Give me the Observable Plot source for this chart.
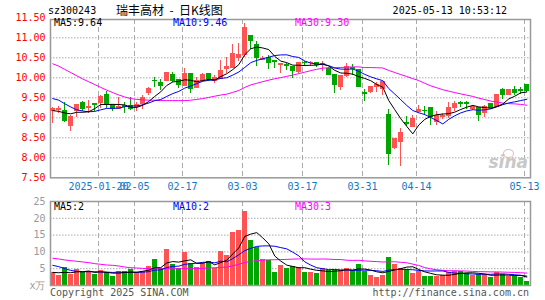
<!DOCTYPE html>
<html><head><meta charset="utf-8">
<script src="https://cdn.jsdelivr.net/npm/d3@7"></script>
<script src="https://cdn.jsdelivr.net/npm/@observablehq/plot@0.6"></script>
<style>
html,body{margin:0;padding:0;background:#fff;}
#wrap{position:relative;width:545px;height:300px;overflow:hidden;font-family:"DejaVu Sans Mono",monospace;}
#wrap svg{position:absolute;left:0;}
.t{position:absolute;white-space:pre;font-size:10px;line-height:12px;font-family:"DejaVu Sans Mono",monospace;}
</style></head><body>
<div id="wrap">
  <div class="t" style="left:48px;top:5px;color:#000">sz300243</div>
  <div class="t" style="left:116px;top:2px;font-family:'Noto Sans CJK SC',sans-serif;font-size:12px;line-height:16px;color:#000">瑞丰高材  -  日K线图</div>
  <div class="t" style="right:38px;top:5px;color:#000">2025-05-13 10:53:12</div>
</div>
<script>
// ---------- data ----------
const dates = ["2025-01-08","2025-01-09","2025-01-10","2025-01-13","2025-01-14","2025-01-15","2025-01-16","2025-01-17","2025-01-20","2025-01-21",
"2025-01-22","2025-01-23","2025-01-24","2025-01-27","2025-02-05","2025-02-06","2025-02-07","2025-02-10","2025-02-11","2025-02-12",
"2025-02-13","2025-02-14","2025-02-17","2025-02-18","2025-02-19","2025-02-20","2025-02-21","2025-02-24","2025-02-25","2025-02-26",
"2025-02-27","2025-02-28","2025-03-03","2025-03-04","2025-03-05","2025-03-06","2025-03-07","2025-03-10","2025-03-11","2025-03-12",
"2025-03-13","2025-03-14","2025-03-17","2025-03-18","2025-03-19","2025-03-20","2025-03-21","2025-03-24","2025-03-25","2025-03-26",
"2025-03-27","2025-03-28","2025-03-31","2025-04-01","2025-04-02","2025-04-03","2025-04-07","2025-04-08","2025-04-09","2025-04-10",
"2025-04-11","2025-04-14","2025-04-15","2025-04-16","2025-04-17","2025-04-18","2025-04-21","2025-04-22","2025-04-23","2025-04-24",
"2025-04-25","2025-04-28","2025-04-29","2025-04-30","2025-05-06","2025-05-07","2025-05-08","2025-05-09","2025-05-12","2025-05-13"];

const open = [9.16,9.19,9.17,8.79,9.17,9.36,9.25,9.34,9.36,9.56, 9.32,9.22,9.29,9.30,9.26,9.35,9.62,9.93,9.87,9.93,
10.06,9.95,9.80,10.10,9.75,9.93,10.10,9.93,9.97,10.22, 10.25,10.50,10.56,11.04,10.83,10.45,10.50,10.42,10.31,10.32,
10.27,10.14,10.38,10.36,10.36,10.32,10.22,10.08,9.78,10.05, 10.24,10.20,9.61,9.65,9.76,9.73,9.06,8.24,8.40,8.87,
8.78,9.14,9.18,9.25,8.90,9.02,9.05,9.24,9.37,9.36, 9.23,9.25,9.11,9.35,9.28,9.70,9.58,9.70,9.69,9.83];
const high = [9.26,9.29,9.38,9.05,9.34,9.42,9.44,9.36,9.57,9.67, 9.33,9.52,9.39,9.52,9.39,9.57,9.77,10.02,9.95,10.13,
10.14,9.95,10.24,10.10,10.00,10.10,10.10,10.06,10.43,10.50, 10.83,10.86,11.35,11.04,10.92,10.54,10.56,10.42,10.34,10.37,
10.27,10.37,10.41,10.40,10.39,10.40,10.26,10.08,10.05,10.35, 10.33,10.20,9.71,9.79,9.88,9.90,9.20,8.46,8.74,9.03,
9.06,9.31,9.28,9.25,9.17,9.12,9.39,9.40,9.42,9.42, 9.30,9.25,9.30,9.35,9.58,9.74,9.72,9.78,9.75,9.83];
const low = [8.87,9.12,8.88,8.65,9.02,9.17,9.12,9.16,9.24,9.23, 9.15,9.20,9.12,9.19,9.15,9.22,9.56,9.77,9.69,9.90,
9.88,9.73,9.78,9.62,9.73,9.90,9.92,9.85,9.97,10.10, 10.25,10.42,10.50,10.71,10.29,10.43,10.22,10.24,10.10,10.18,
9.98,10.10,10.28,10.28,10.27,10.17,10.08,9.60,9.68,10.00, 10.06,9.75,9.42,9.60,9.63,9.56,7.82,8.20,7.79,8.78,
8.76,9.12,9.05,8.80,8.80,8.97,8.98,9.15,9.25,9.22, 9.18,8.92,9.00,9.25,9.27,9.45,9.55,9.55,9.59,9.64];
const close = [9.21,9.21,8.93,9.01,9.33,9.21,9.28,9.32,9.52,9.33, 9.23,9.26,9.27,9.22,9.32,9.50,9.73,9.91,9.79,10.12,
9.93,9.81,10.10,9.73,9.93,10.08,9.97,10.00,10.18,10.28, 10.60,10.58,11.25,10.92,10.50,10.48,10.37,10.40,10.34,10.30,
10.17,10.36,10.36,10.38,10.31,10.34,10.08,9.82,10.05,10.28, 10.22,9.77,9.60,9.76,9.81,9.89,8.09,8.46,8.63,8.85,
8.96,9.20,9.16,9.02,9.05,9.04,9.25,9.35,9.35,9.34, 9.26,9.06,9.28,9.25,9.56,9.58,9.69,9.62,9.67,9.66];
// volume, 万手
const vol = [3.8,3.0,5.4,3.4,4.8,3.8,4.2,3.2,4.5,3.8, 2.7,4.2,4.2,4.8,3.8,4.2,5.8,7.8,5.0,10.8,
6.2,5.0,9.7,6.5,5.5,6.5,7.2,5.0,10.0,9.0, 15.7,16.3,22.0,13.5,11.2,7.8,7.5,3.8,6.0,5.2,
5.8,5.5,4.0,3.8,3.5,5.0,4.5,4.5,4.5,5.0, 4.5,6.2,4.2,3.0,2.5,3.0,8.3,6.3,5.0,4.8,
3.5,4.2,2.8,2.7,2.7,3.0,4.0,4.2,4.2,3.5, 3.0,3.2,3.2,2.3,3.8,3.2,2.8,2.8,2.5,1.2];

// moving-average values at the start of the window (earlier sessions not shown)
const ma5Head = [9.18,9.16,9.12,9.10];
const ma10Head = [9.48,9.44,9.35,9.27,9.20,9.17,9.15,9.16,9.20];
const ma30Head = [10.35,10.29,10.21,10.13,10.05,9.97,9.90,9.83,9.76,9.69, 9.63,9.57,9.52,9.48,9.46,9.45,9.44,9.44,9.43,9.43,
9.43,9.43,9.43,9.44,9.46,9.48,9.51,9.54,9.57];
const vma5Head = [3.9,3.8,3.9,3.8];
const vma10Head = [6.0,5.6,5.0,4.5,4.2,4.1,4.1,4.1,4.0];
const vma30Head = [8.1,7.9,7.6,7.4,7.2,7.0,6.8,6.5,6.3,6.1, 6.0,5.8,5.5,5.3,5.2,5.1,5.0,5.0,5.0,5.0,
5.0,5.0,5.0,5.0,5.05,5.1,5.2,5.3,5.4];

// legend texts as shown on the chart
const priceLegend = ["MA5:9.64", "MA10:9.46", "MA30:9.30"];
const volLegend = ["MA5:2", "MA10:2", "MA30:3"];

const tickDates = ["2025-01-20","2025-02-05","2025-02-17","2025-03-03","2025-03-17","2025-03-31","2025-04-14","2025-05-13"];
const tickLabels = ["2025-01-20","02-05","02-17","03-03","03-17","03-31","04-14","05-13"];
const priceTicks = [7.5,8.0,8.5,9.0,9.5,10.0,10.5,11.0,11.5];
const priceGrid = [8.0,8.5,9.0,9.5,10.0,10.5,11.0];
const volTicks = [0,5,10,15,20,25];
const volGrid = [5,10,15,20];

// ---------- build ----------
const N = close.length;
const rows = d3.range(N).map(i => ({i, date: dates[i], open: open[i], high: high[i], low: low[i], close: close[i], vol: vol[i], up: close[i] >= open[i]}));
const UP = "#ff5252", DOWN = "#00a600";
const col = d => d.up ? UP : DOWN;
function movingAvg(values, k, head) {
  return values.map((_, i) => i < k - 1 ? head[i] : d3.mean(values.slice(i - k + 1, i + 1)));
}
const ma5 = movingAvg(close, 5, ma5Head), ma10 = movingAvg(close, 10, ma10Head), ma30 = movingAvg(close, 30, ma30Head);
const vma5 = movingAvg(vol, 5, vma5Head), vma10 = movingAvg(vol, 10, vma10Head), vma30 = movingAvg(vol, 30, vma30Head);
const tickIdx = tickDates.map(d => dates.indexOf(d));
const labelOf = new Map(tickIdx.map((t, k) => [t, tickLabels[k]]));
const xDomain = [-0.383, N - 0.383];
const half = 0.42, gridShift = 0.38;
const font = {fontFamily: "DejaVu Sans Mono, monospace", fontSize: "10px", background: "transparent", overflow: "visible"};

const main = Plot.plot({
  width: 545, height: 197,
  marginLeft: 50, marginRight: 15, marginTop: 19, marginBottom: 19.7,
  x: {domain: xDomain, range: [50, 530]},
  y: {domain: [7.5, 11.5], range: [177.3, 17.3]},
  style: font,
  marks: [
    Plot.ruleY(priceGrid, {stroke: "#aaa", strokeDasharray: "1.5,1.5"}),
    Plot.ruleX(tickIdx, {x: d => d - gridShift, stroke: "#aaa", strokeDasharray: "5,3"}),
    Plot.frame({stroke: "#999", strokeWidth: 1.5}),
    Plot.axisY(priceTicks, {tickFormat: d => d.toFixed(2), tickSize: 0, tickPadding: 5, color: "#ff0000", label: null}),
    Plot.axisX(tickIdx, {tickFormat: d => labelOf.get(d), tickSize: 0, tickPadding: 5, dx: -2.3, color: "#1478c8", label: null}),
    Plot.ruleX(rows, {x: "i", y1: "low", y2: "high", stroke: col, strokeWidth: 1, shapeRendering: "crispEdges"}),
    Plot.rect(rows, {x1: d => d.i - half, x2: d => d.i + half, y1: "open", y2: "close", fill: col, insetTop: -0.5, insetBottom: -0.5, shapeRendering: "crispEdges"}),
    Plot.lineY(ma30, {x: (d, i) => i, stroke: "#ff00ff", strokeWidth: 1}),
    Plot.lineY(ma10, {x: (d, i) => i, stroke: "#0000ff", strokeWidth: 1}),
    Plot.lineY(ma5, {x: (d, i) => i, stroke: "#000000", strokeWidth: 1})
  ]
});

const volume = Plot.plot({
  width: 545, height: 103,
  marginLeft: 50, marginRight: 15, marginTop: 4, marginBottom: 15,
  x: {domain: xDomain, range: [50, 530], axis: null},
  y: {domain: [0, 25]},
  style: font,
  marks: [
    Plot.ruleY(volGrid, {stroke: "#aaa", strokeDasharray: "1.5,1.5"}),
    Plot.ruleX(tickIdx, {x: d => d - gridShift, stroke: "#aaa", strokeDasharray: "5,3"}),
    Plot.rect(rows, {x1: d => d.i - half, x2: d => d.i + half, y1: 0, y2: "vol", fill: col, shapeRendering: "crispEdges"}),
    Plot.lineY(vma30, {x: (d, i) => i, stroke: "#ff00ff", strokeWidth: 1}),
    Plot.lineY(vma10, {x: (d, i) => i, stroke: "#0000ff", strokeWidth: 1}),
    Plot.lineY(vma5, {x: (d, i) => i, stroke: "#000000", strokeWidth: 1}),
    Plot.frame({stroke: "#999", strokeWidth: 1.5}),
    Plot.axisY(volTicks, {tickFormat: d => d === 0 ? "x万" : String(d), tickSize: 0, tickPadding: 5, color: "#999", label: null})
  ]
});

const wrap = document.getElementById("wrap");
main.style.top = "0px";
volume.style.top = "197px";
wrap.appendChild(main);
wrap.appendChild(volume);

function addText(txt, left, top, color, extra) {
  const el = document.createElement("div");
  el.className = "t";
  el.textContent = txt;
  el.style.left = left + "px";
  el.style.top = top + "px";
  el.style.color = color;
  if (extra) Object.assign(el.style, extra);
  wrap.appendChild(el);
  return el;
}
const legendX = [54, 173, 295], legendColors = ["#000", "#0000ff", "#ff00ff"];
priceLegend.forEach((s, k) => addText(s, legendX[k], 17, legendColors[k]));
volLegend.forEach((s, k) => addText(s, legendX[k], 201, legendColors[k]));
addText("Copyright 2025 SINA.COM", 50, 287, "#555");
addText("http://finance.sina.com.cn", 0, 287, "#555", {left: "auto", right: "16px"});
// sina watermark
addText("sina", 0, 152, "#c8c8c8", {left: "auto", right: "17px", fontFamily: "DejaVu Sans, sans-serif", fontSize: "17px", lineHeight: "20px", fontWeight: "bold", fontStyle: "italic"});
const eye = document.createElement("div");
Object.assign(eye.style, {position: "absolute", left: "503px", top: "149px", width: "9px", height: "7px", border: "1.5px solid #f2b4b4", borderRadius: "50%"});
wrap.appendChild(eye);
</script>
</body></html>
